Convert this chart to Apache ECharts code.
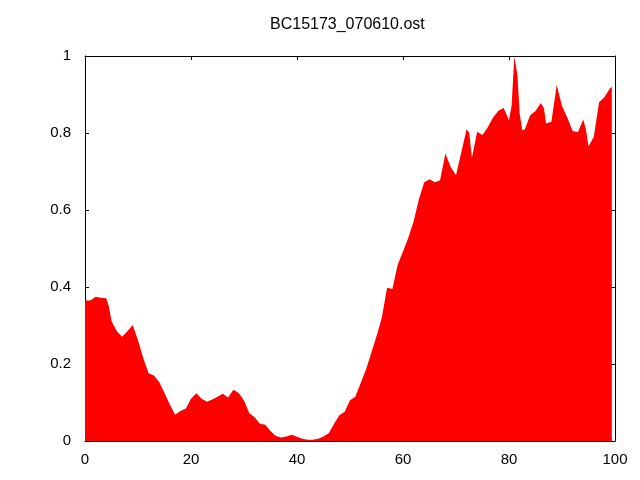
<!DOCTYPE html>
<html>
<head>
<meta charset="utf-8">
<script src="https://cdn.jsdelivr.net/npm/echarts@6/dist/echarts.min.js"></script>
<style>
html,body{margin:0;padding:0;background:#fff;}
#chart{width:640px;height:480px;}
</style>
</head>
<body>
<div id="chart"></div>
<script>
const titleText = "BC15173_070610.ost";
const xTicks = [0, 20, 40, 60, 80, 100];
const yTicks = [0, 0.2, 0.4, 0.6, 0.8, 1];
const xs = [0,1,2,3,4,4.5,5,6,7,8,9,10,11,12,13,14,15,16,17,18,19,20,21,22,23,24,25,26,27,28,29,30,31,32,33,34,35,36,37,38,39,40,41,42,43,44,45,46,47,48,49,50,51,52,53,54,55,56,57,58,59,60,61,62,63,64,65,66,67,68,69,70,71,72,72.5,73,74,75,76,77,78,79,80,80.5,81,81.6,82,82.5,83,84,85,86,86.6,87,88,89,90,91,92,93,94,94.5,95,96,97,98,99,99.4];
const ys = [0.365,0.365,0.375,0.372,0.371,0.35,0.312,0.285,0.271,0.285,0.301,0.262,0.215,0.176,0.170,0.153,0.125,0.095,0.068,0.078,0.084,0.110,0.124,0.110,0.102,0.108,0.115,0.123,0.113,0.133,0.125,0.105,0.072,0.062,0.045,0.042,0.026,0.013,0.009,0.012,0.016,0.011,0.006,0.003,0.003,0.006,0.012,0.020,0.045,0.067,0.076,0.106,0.115,0.150,0.185,0.228,0.272,0.320,0.398,0.395,0.458,0.492,0.528,0.570,0.628,0.672,0.680,0.672,0.677,0.747,0.712,0.690,0.750,0.810,0.800,0.736,0.803,0.795,0.815,0.840,0.858,0.865,0.833,0.872,0.998,0.950,0.852,0.807,0.810,0.846,0.857,0.878,0.864,0.825,0.829,0.925,0.870,0.840,0.805,0.802,0.835,0.811,0.765,0.790,0.880,0.893,0.915,0.920];

const data = xs.map((x, i) => [x, ys[i]]);
const font = "Liberation Sans, Arial, sans-serif";
const chart = echarts.init(document.getElementById('chart'), null, {renderer: 'canvas'});
const axisLine = {show: true, onZero: false, lineStyle: {color: '#000', width: 1}};
const tick = {show: true, inside: true, length: 4, lineStyle: {color: '#000', width: 1}};
chart.setOption({
  animation: false,
  backgroundColor: '#fff',
  title: {
    text: titleText, left: 265, top: 12,
    textStyle: {fontFamily: font, fontSize: 16, fontWeight: 'normal', color: '#000'}
  },
  grid: {left: 85, right: 25, top: 56, bottom: 39},
  xAxis: [
    {type: 'value', min: xTicks[0], max: xTicks[xTicks.length-1], interval: 20, position: 'bottom',
     axisLine: axisLine, axisTick: tick, splitLine: {show: false},
     axisLabel: {color: '#000', fontFamily: font, fontSize: 15, margin: 11}},
    {type: 'value', min: xTicks[0], max: xTicks[xTicks.length-1], interval: 20, position: 'top',
     axisLine: axisLine, axisTick: tick, splitLine: {show: false}, axisLabel: {show: false}}
  ],
  yAxis: [
    {type: 'value', min: yTicks[0], max: yTicks[yTicks.length-1], interval: 0.2, position: 'left',
     axisLine: axisLine, axisTick: tick, splitLine: {show: false},
     axisLabel: {color: '#000', fontFamily: font, fontSize: 15, margin: 14}},
    {type: 'value', min: yTicks[0], max: yTicks[yTicks.length-1], interval: 0.2, position: 'right',
     axisLine: axisLine, axisTick: tick, splitLine: {show: false}, axisLabel: {show: false}}
  ],
  series: [{
    type: 'line', data: data, xAxisIndex: 0, yAxisIndex: 0,
    showSymbol: false, symbol: 'none',
    lineStyle: {width: 0, color: '#ff0000'},
    areaStyle: {color: '#ff0000', opacity: 1, origin: 'start'},
    z: 1
  }]
});
</script>
</body>
</html>
